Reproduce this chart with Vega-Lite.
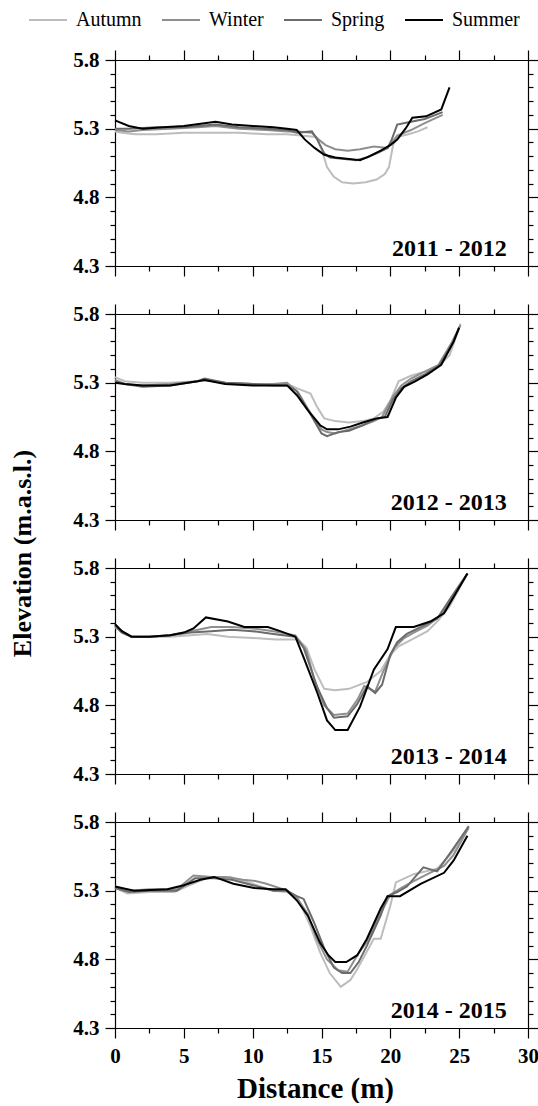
{
"$schema": "https://vega.github.io/schema/vega-lite/v6.json",
"padding": {"left": 9, "top": 0, "right": 0, "bottom": 0},
"bounds": "flush",
"spacing": 48,
"config": {
 "view": {"stroke": null},
 "axis": {"domainColor": "black", "tickColor": "black", "labelColor": "black", "titleColor": "black", "labelFont": "Liberation Serif", "titleFont": "Liberation Serif", "labelFontSize": 21, "labelFontWeight": "bold", "titleFontWeight": "bold", "grid": false, "domainWidth": 1.2, "tickWidth": 1.2, "labelOverlap": false, "labelFlush": false},
 "legend": {"orient": "none", "legendX": -87, "legendY": -60, "direction": "horizontal", "columns": 4, "symbolType": "stroke", "symbolSize": 1444, "symbolStrokeWidth": 2, "labelFont": "Liberation Serif", "labelFontSize": 20, "labelFontWeight": "normal", "labelColor": "black", "columnPadding": 16, "labelOffset": 8, "padding": 0}
},
"datasets": {"profiles": [
{"p":"2011 - 2012","s":"Autumn","d":0,"e":5.28},{"p":"2011 - 2012","s":"Autumn","d":0.5,"e":5.27},{"p":"2011 - 2012","s":"Autumn","d":1.5,"e":5.26},{"p":"2011 - 2012","s":"Autumn","d":3,"e":5.26},{"p":"2011 - 2012","s":"Autumn","d":5,"e":5.27},{"p":"2011 - 2012","s":"Autumn","d":7,"e":5.27},{"p":"2011 - 2012","s":"Autumn","d":9,"e":5.27},{"p":"2011 - 2012","s":"Autumn","d":11,"e":5.26},{"p":"2011 - 2012","s":"Autumn","d":12.5,"e":5.26},{"p":"2011 - 2012","s":"Autumn","d":13.5,"e":5.25},{"p":"2011 - 2012","s":"Autumn","d":14.6,"e":5.24},{"p":"2011 - 2012","s":"Autumn","d":15,"e":5.15},{"p":"2011 - 2012","s":"Autumn","d":15.4,"e":5.02},{"p":"2011 - 2012","s":"Autumn","d":15.9,"e":4.95},{"p":"2011 - 2012","s":"Autumn","d":16.5,"e":4.91},{"p":"2011 - 2012","s":"Autumn","d":17.3,"e":4.90},{"p":"2011 - 2012","s":"Autumn","d":18.2,"e":4.91},{"p":"2011 - 2012","s":"Autumn","d":19,"e":4.93},{"p":"2011 - 2012","s":"Autumn","d":19.6,"e":4.97},{"p":"2011 - 2012","s":"Autumn","d":19.9,"e":5.02},{"p":"2011 - 2012","s":"Autumn","d":20.2,"e":5.18},{"p":"2011 - 2012","s":"Autumn","d":20.5,"e":5.24},{"p":"2011 - 2012","s":"Autumn","d":21.3,"e":5.26},{"p":"2011 - 2012","s":"Autumn","d":22,"e":5.28},{"p":"2011 - 2012","s":"Autumn","d":22.7,"e":5.31},
{"p":"2011 - 2012","s":"Winter","d":0,"e":5.29},{"p":"2011 - 2012","s":"Winter","d":1,"e":5.28},{"p":"2011 - 2012","s":"Winter","d":2,"e":5.29},{"p":"2011 - 2012","s":"Winter","d":4,"e":5.30},{"p":"2011 - 2012","s":"Winter","d":6,"e":5.31},{"p":"2011 - 2012","s":"Winter","d":7.3,"e":5.32},{"p":"2011 - 2012","s":"Winter","d":9,"e":5.30},{"p":"2011 - 2012","s":"Winter","d":11,"e":5.29},{"p":"2011 - 2012","s":"Winter","d":12.5,"e":5.28},{"p":"2011 - 2012","s":"Winter","d":13.3,"e":5.28},{"p":"2011 - 2012","s":"Winter","d":14.3,"e":5.27},{"p":"2011 - 2012","s":"Winter","d":14.8,"e":5.22},{"p":"2011 - 2012","s":"Winter","d":15.3,"e":5.18},{"p":"2011 - 2012","s":"Winter","d":16,"e":5.15},{"p":"2011 - 2012","s":"Winter","d":16.9,"e":5.14},{"p":"2011 - 2012","s":"Winter","d":17.8,"e":5.15},{"p":"2011 - 2012","s":"Winter","d":18.8,"e":5.17},{"p":"2011 - 2012","s":"Winter","d":19.8,"e":5.16},{"p":"2011 - 2012","s":"Winter","d":20.5,"e":5.25},{"p":"2011 - 2012","s":"Winter","d":21.5,"e":5.29},{"p":"2011 - 2012","s":"Winter","d":22.5,"e":5.34},{"p":"2011 - 2012","s":"Winter","d":23.8,"e":5.40},
{"p":"2011 - 2012","s":"Spring","d":0,"e":5.30},{"p":"2011 - 2012","s":"Spring","d":1,"e":5.30},{"p":"2011 - 2012","s":"Spring","d":3,"e":5.31},{"p":"2011 - 2012","s":"Spring","d":5,"e":5.31},{"p":"2011 - 2012","s":"Spring","d":7.3,"e":5.33},{"p":"2011 - 2012","s":"Spring","d":9,"e":5.31},{"p":"2011 - 2012","s":"Spring","d":11,"e":5.30},{"p":"2011 - 2012","s":"Spring","d":12.5,"e":5.29},{"p":"2011 - 2012","s":"Spring","d":13.2,"e":5.27},{"p":"2011 - 2012","s":"Spring","d":14.3,"e":5.28},{"p":"2011 - 2012","s":"Spring","d":14.7,"e":5.22},{"p":"2011 - 2012","s":"Spring","d":15.2,"e":5.12},{"p":"2011 - 2012","s":"Spring","d":15.6,"e":5.09},{"p":"2011 - 2012","s":"Spring","d":16.5,"e":5.08},{"p":"2011 - 2012","s":"Spring","d":17.5,"e":5.07},{"p":"2011 - 2012","s":"Spring","d":18.3,"e":5.09},{"p":"2011 - 2012","s":"Spring","d":19.2,"e":5.13},{"p":"2011 - 2012","s":"Spring","d":19.8,"e":5.16},{"p":"2011 - 2012","s":"Spring","d":20.1,"e":5.22},{"p":"2011 - 2012","s":"Spring","d":20.5,"e":5.33},{"p":"2011 - 2012","s":"Spring","d":21.5,"e":5.35},{"p":"2011 - 2012","s":"Spring","d":22.5,"e":5.37},{"p":"2011 - 2012","s":"Spring","d":23.8,"e":5.42},
{"p":"2011 - 2012","s":"Summer","d":0,"e":5.36},{"p":"2011 - 2012","s":"Summer","d":1,"e":5.32},{"p":"2011 - 2012","s":"Summer","d":2,"e":5.30},{"p":"2011 - 2012","s":"Summer","d":3.5,"e":5.31},{"p":"2011 - 2012","s":"Summer","d":5,"e":5.32},{"p":"2011 - 2012","s":"Summer","d":6.5,"e":5.34},{"p":"2011 - 2012","s":"Summer","d":7.3,"e":5.35},{"p":"2011 - 2012","s":"Summer","d":8.5,"e":5.33},{"p":"2011 - 2012","s":"Summer","d":10,"e":5.32},{"p":"2011 - 2012","s":"Summer","d":11.5,"e":5.31},{"p":"2011 - 2012","s":"Summer","d":12.5,"e":5.30},{"p":"2011 - 2012","s":"Summer","d":13.2,"e":5.29},{"p":"2011 - 2012","s":"Summer","d":13.8,"e":5.22},{"p":"2011 - 2012","s":"Summer","d":14.5,"e":5.16},{"p":"2011 - 2012","s":"Summer","d":15.2,"e":5.11},{"p":"2011 - 2012","s":"Summer","d":16,"e":5.09},{"p":"2011 - 2012","s":"Summer","d":17,"e":5.08},{"p":"2011 - 2012","s":"Summer","d":17.8,"e":5.07},{"p":"2011 - 2012","s":"Summer","d":18.5,"e":5.10},{"p":"2011 - 2012","s":"Summer","d":19.3,"e":5.14},{"p":"2011 - 2012","s":"Summer","d":20,"e":5.18},{"p":"2011 - 2012","s":"Summer","d":20.5,"e":5.22},{"p":"2011 - 2012","s":"Summer","d":21.1,"e":5.30},{"p":"2011 - 2012","s":"Summer","d":21.6,"e":5.38},{"p":"2011 - 2012","s":"Summer","d":22.6,"e":5.39},{"p":"2011 - 2012","s":"Summer","d":23.7,"e":5.44},{"p":"2011 - 2012","s":"Summer","d":24.3,"e":5.60},
{"p":"2012 - 2013","s":"Autumn","d":0,"e":5.34},{"p":"2012 - 2013","s":"Autumn","d":0.7,"e":5.31},{"p":"2012 - 2013","s":"Autumn","d":2,"e":5.30},{"p":"2012 - 2013","s":"Autumn","d":4,"e":5.30},{"p":"2012 - 2013","s":"Autumn","d":6,"e":5.31},{"p":"2012 - 2013","s":"Autumn","d":6.5,"e":5.32},{"p":"2012 - 2013","s":"Autumn","d":8,"e":5.30},{"p":"2012 - 2013","s":"Autumn","d":10,"e":5.29},{"p":"2012 - 2013","s":"Autumn","d":11.5,"e":5.29},{"p":"2012 - 2013","s":"Autumn","d":12.5,"e":5.29},{"p":"2012 - 2013","s":"Autumn","d":13.2,"e":5.26},{"p":"2012 - 2013","s":"Autumn","d":14.2,"e":5.22},{"p":"2012 - 2013","s":"Autumn","d":14.7,"e":5.12},{"p":"2012 - 2013","s":"Autumn","d":15.2,"e":5.04},{"p":"2012 - 2013","s":"Autumn","d":16,"e":5.02},{"p":"2012 - 2013","s":"Autumn","d":17,"e":5.01},{"p":"2012 - 2013","s":"Autumn","d":18,"e":5.02},{"p":"2012 - 2013","s":"Autumn","d":18.8,"e":5.04},{"p":"2012 - 2013","s":"Autumn","d":19.5,"e":5.09},{"p":"2012 - 2013","s":"Autumn","d":20,"e":5.17},{"p":"2012 - 2013","s":"Autumn","d":20.6,"e":5.31},{"p":"2012 - 2013","s":"Autumn","d":21.5,"e":5.35},{"p":"2012 - 2013","s":"Autumn","d":22.5,"e":5.38},{"p":"2012 - 2013","s":"Autumn","d":23.5,"e":5.42},{"p":"2012 - 2013","s":"Autumn","d":24.3,"e":5.50},{"p":"2012 - 2013","s":"Autumn","d":25.1,"e":5.73},
{"p":"2012 - 2013","s":"Winter","d":0,"e":5.32},{"p":"2012 - 2013","s":"Winter","d":0.7,"e":5.29},{"p":"2012 - 2013","s":"Winter","d":2,"e":5.28},{"p":"2012 - 2013","s":"Winter","d":4,"e":5.29},{"p":"2012 - 2013","s":"Winter","d":6,"e":5.31},{"p":"2012 - 2013","s":"Winter","d":6.5,"e":5.32},{"p":"2012 - 2013","s":"Winter","d":8,"e":5.30},{"p":"2012 - 2013","s":"Winter","d":10,"e":5.29},{"p":"2012 - 2013","s":"Winter","d":11.5,"e":5.29},{"p":"2012 - 2013","s":"Winter","d":12.5,"e":5.30},{"p":"2012 - 2013","s":"Winter","d":13.3,"e":5.23},{"p":"2012 - 2013","s":"Winter","d":14.3,"e":5.06},{"p":"2012 - 2013","s":"Winter","d":15,"e":4.96},{"p":"2012 - 2013","s":"Winter","d":15.4,"e":4.94},{"p":"2012 - 2013","s":"Winter","d":16,"e":4.93},{"p":"2012 - 2013","s":"Winter","d":17,"e":4.96},{"p":"2012 - 2013","s":"Winter","d":18,"e":4.99},{"p":"2012 - 2013","s":"Winter","d":18.8,"e":5.02},{"p":"2012 - 2013","s":"Winter","d":19.4,"e":5.05},{"p":"2012 - 2013","s":"Winter","d":20.2,"e":5.20},{"p":"2012 - 2013","s":"Winter","d":20.8,"e":5.28},{"p":"2012 - 2013","s":"Winter","d":21.5,"e":5.33},{"p":"2012 - 2013","s":"Winter","d":22.5,"e":5.38},{"p":"2012 - 2013","s":"Winter","d":23.5,"e":5.43},{"p":"2012 - 2013","s":"Winter","d":24.5,"e":5.60},{"p":"2012 - 2013","s":"Winter","d":25.1,"e":5.72},
{"p":"2012 - 2013","s":"Spring","d":0,"e":5.31},{"p":"2012 - 2013","s":"Spring","d":0.7,"e":5.29},{"p":"2012 - 2013","s":"Spring","d":2,"e":5.27},{"p":"2012 - 2013","s":"Spring","d":4,"e":5.28},{"p":"2012 - 2013","s":"Spring","d":6,"e":5.31},{"p":"2012 - 2013","s":"Spring","d":6.5,"e":5.33},{"p":"2012 - 2013","s":"Spring","d":8,"e":5.30},{"p":"2012 - 2013","s":"Spring","d":10,"e":5.29},{"p":"2012 - 2013","s":"Spring","d":11.5,"e":5.28},{"p":"2012 - 2013","s":"Spring","d":12.5,"e":5.28},{"p":"2012 - 2013","s":"Spring","d":13.2,"e":5.24},{"p":"2012 - 2013","s":"Spring","d":14.2,"e":5.07},{"p":"2012 - 2013","s":"Spring","d":15,"e":4.93},{"p":"2012 - 2013","s":"Spring","d":15.4,"e":4.91},{"p":"2012 - 2013","s":"Spring","d":16.2,"e":4.94},{"p":"2012 - 2013","s":"Spring","d":17,"e":4.95},{"p":"2012 - 2013","s":"Spring","d":18,"e":4.99},{"p":"2012 - 2013","s":"Spring","d":18.8,"e":5.03},{"p":"2012 - 2013","s":"Spring","d":19.6,"e":5.05},{"p":"2012 - 2013","s":"Spring","d":20.2,"e":5.18},{"p":"2012 - 2013","s":"Spring","d":20.8,"e":5.26},{"p":"2012 - 2013","s":"Spring","d":21.5,"e":5.31},{"p":"2012 - 2013","s":"Spring","d":22.5,"e":5.36},{"p":"2012 - 2013","s":"Spring","d":23.5,"e":5.42},{"p":"2012 - 2013","s":"Spring","d":24.5,"e":5.58},{"p":"2012 - 2013","s":"Spring","d":25,"e":5.70},
{"p":"2012 - 2013","s":"Summer","d":0,"e":5.30},{"p":"2012 - 2013","s":"Summer","d":0.7,"e":5.29},{"p":"2012 - 2013","s":"Summer","d":2,"e":5.28},{"p":"2012 - 2013","s":"Summer","d":4,"e":5.28},{"p":"2012 - 2013","s":"Summer","d":6,"e":5.31},{"p":"2012 - 2013","s":"Summer","d":6.5,"e":5.32},{"p":"2012 - 2013","s":"Summer","d":8,"e":5.29},{"p":"2012 - 2013","s":"Summer","d":10,"e":5.28},{"p":"2012 - 2013","s":"Summer","d":11.5,"e":5.28},{"p":"2012 - 2013","s":"Summer","d":12.5,"e":5.28},{"p":"2012 - 2013","s":"Summer","d":13.2,"e":5.21},{"p":"2012 - 2013","s":"Summer","d":14,"e":5.10},{"p":"2012 - 2013","s":"Summer","d":14.9,"e":4.99},{"p":"2012 - 2013","s":"Summer","d":15.4,"e":4.96},{"p":"2012 - 2013","s":"Summer","d":16.2,"e":4.96},{"p":"2012 - 2013","s":"Summer","d":17.1,"e":4.98},{"p":"2012 - 2013","s":"Summer","d":18,"e":5.01},{"p":"2012 - 2013","s":"Summer","d":19,"e":5.04},{"p":"2012 - 2013","s":"Summer","d":19.8,"e":5.05},{"p":"2012 - 2013","s":"Summer","d":20.4,"e":5.19},{"p":"2012 - 2013","s":"Summer","d":21,"e":5.27},{"p":"2012 - 2013","s":"Summer","d":21.8,"e":5.31},{"p":"2012 - 2013","s":"Summer","d":22.7,"e":5.36},{"p":"2012 - 2013","s":"Summer","d":23.7,"e":5.43},{"p":"2012 - 2013","s":"Summer","d":24.6,"e":5.60},{"p":"2012 - 2013","s":"Summer","d":25,"e":5.70},
{"p":"2013 - 2014","s":"Autumn","d":0,"e":5.37},{"p":"2013 - 2014","s":"Autumn","d":0.5,"e":5.33},{"p":"2013 - 2014","s":"Autumn","d":1.2,"e":5.30},{"p":"2013 - 2014","s":"Autumn","d":2.5,"e":5.30},{"p":"2013 - 2014","s":"Autumn","d":4,"e":5.30},{"p":"2013 - 2014","s":"Autumn","d":5.5,"e":5.31},{"p":"2013 - 2014","s":"Autumn","d":6.7,"e":5.32},{"p":"2013 - 2014","s":"Autumn","d":8.2,"e":5.30},{"p":"2013 - 2014","s":"Autumn","d":10,"e":5.29},{"p":"2013 - 2014","s":"Autumn","d":11.7,"e":5.28},{"p":"2013 - 2014","s":"Autumn","d":13.3,"e":5.28},{"p":"2013 - 2014","s":"Autumn","d":13.9,"e":5.22},{"p":"2013 - 2014","s":"Autumn","d":14.5,"e":5.06},{"p":"2013 - 2014","s":"Autumn","d":15.2,"e":4.92},{"p":"2013 - 2014","s":"Autumn","d":16,"e":4.91},{"p":"2013 - 2014","s":"Autumn","d":17,"e":4.92},{"p":"2013 - 2014","s":"Autumn","d":18.3,"e":4.97},{"p":"2013 - 2014","s":"Autumn","d":19.3,"e":5.05},{"p":"2013 - 2014","s":"Autumn","d":20,"e":5.17},{"p":"2013 - 2014","s":"Autumn","d":20.6,"e":5.23},{"p":"2013 - 2014","s":"Autumn","d":21.2,"e":5.26},{"p":"2013 - 2014","s":"Autumn","d":22.7,"e":5.34},{"p":"2013 - 2014","s":"Autumn","d":23.5,"e":5.42},{"p":"2013 - 2014","s":"Autumn","d":24.3,"e":5.52},{"p":"2013 - 2014","s":"Autumn","d":25.6,"e":5.76},
{"p":"2013 - 2014","s":"Winter","d":0,"e":5.39},{"p":"2013 - 2014","s":"Winter","d":0.5,"e":5.34},{"p":"2013 - 2014","s":"Winter","d":1.2,"e":5.30},{"p":"2013 - 2014","s":"Winter","d":2.5,"e":5.30},{"p":"2013 - 2014","s":"Winter","d":4,"e":5.31},{"p":"2013 - 2014","s":"Winter","d":5.5,"e":5.34},{"p":"2013 - 2014","s":"Winter","d":7,"e":5.37},{"p":"2013 - 2014","s":"Winter","d":8.5,"e":5.37},{"p":"2013 - 2014","s":"Winter","d":10,"e":5.36},{"p":"2013 - 2014","s":"Winter","d":11.5,"e":5.34},{"p":"2013 - 2014","s":"Winter","d":13.1,"e":5.31},{"p":"2013 - 2014","s":"Winter","d":13.9,"e":5.20},{"p":"2013 - 2014","s":"Winter","d":14.5,"e":4.98},{"p":"2013 - 2014","s":"Winter","d":15.2,"e":4.80},{"p":"2013 - 2014","s":"Winter","d":15.9,"e":4.73},{"p":"2013 - 2014","s":"Winter","d":16.9,"e":4.74},{"p":"2013 - 2014","s":"Winter","d":17.6,"e":4.84},{"p":"2013 - 2014","s":"Winter","d":18.1,"e":4.94},{"p":"2013 - 2014","s":"Winter","d":18.9,"e":4.90},{"p":"2013 - 2014","s":"Winter","d":19.5,"e":5.05},{"p":"2013 - 2014","s":"Winter","d":20.3,"e":5.22},{"p":"2013 - 2014","s":"Winter","d":21,"e":5.29},{"p":"2013 - 2014","s":"Winter","d":21.7,"e":5.33},{"p":"2013 - 2014","s":"Winter","d":22.7,"e":5.38},{"p":"2013 - 2014","s":"Winter","d":23.6,"e":5.45},{"p":"2013 - 2014","s":"Winter","d":24.5,"e":5.58},{"p":"2013 - 2014","s":"Winter","d":25.6,"e":5.76},
{"p":"2013 - 2014","s":"Spring","d":0,"e":5.38},{"p":"2013 - 2014","s":"Spring","d":0.5,"e":5.33},{"p":"2013 - 2014","s":"Spring","d":1.2,"e":5.30},{"p":"2013 - 2014","s":"Spring","d":2.5,"e":5.30},{"p":"2013 - 2014","s":"Spring","d":4,"e":5.31},{"p":"2013 - 2014","s":"Spring","d":5.5,"e":5.33},{"p":"2013 - 2014","s":"Spring","d":7,"e":5.34},{"p":"2013 - 2014","s":"Spring","d":8.5,"e":5.35},{"p":"2013 - 2014","s":"Spring","d":10,"e":5.34},{"p":"2013 - 2014","s":"Spring","d":11.5,"e":5.32},{"p":"2013 - 2014","s":"Spring","d":13.1,"e":5.30},{"p":"2013 - 2014","s":"Spring","d":13.7,"e":5.22},{"p":"2013 - 2014","s":"Spring","d":14.7,"e":4.93},{"p":"2013 - 2014","s":"Spring","d":15.4,"e":4.78},{"p":"2013 - 2014","s":"Spring","d":15.9,"e":4.71},{"p":"2013 - 2014","s":"Spring","d":16.9,"e":4.72},{"p":"2013 - 2014","s":"Spring","d":17.6,"e":4.81},{"p":"2013 - 2014","s":"Spring","d":18.3,"e":4.94},{"p":"2013 - 2014","s":"Spring","d":18.9,"e":4.89},{"p":"2013 - 2014","s":"Spring","d":19.4,"e":4.95},{"p":"2013 - 2014","s":"Spring","d":20,"e":5.17},{"p":"2013 - 2014","s":"Spring","d":20.5,"e":5.26},{"p":"2013 - 2014","s":"Spring","d":21.2,"e":5.32},{"p":"2013 - 2014","s":"Spring","d":22.2,"e":5.37},{"p":"2013 - 2014","s":"Spring","d":23.4,"e":5.43},{"p":"2013 - 2014","s":"Spring","d":24.5,"e":5.60},{"p":"2013 - 2014","s":"Spring","d":25.6,"e":5.76},
{"p":"2013 - 2014","s":"Summer","d":0,"e":5.39},{"p":"2013 - 2014","s":"Summer","d":0.5,"e":5.34},{"p":"2013 - 2014","s":"Summer","d":1.2,"e":5.30},{"p":"2013 - 2014","s":"Summer","d":2.5,"e":5.30},{"p":"2013 - 2014","s":"Summer","d":4,"e":5.31},{"p":"2013 - 2014","s":"Summer","d":5,"e":5.33},{"p":"2013 - 2014","s":"Summer","d":5.7,"e":5.36},{"p":"2013 - 2014","s":"Summer","d":6.6,"e":5.44},{"p":"2013 - 2014","s":"Summer","d":8.2,"e":5.41},{"p":"2013 - 2014","s":"Summer","d":9.4,"e":5.37},{"p":"2013 - 2014","s":"Summer","d":10.2,"e":5.37},{"p":"2013 - 2014","s":"Summer","d":11.1,"e":5.37},{"p":"2013 - 2014","s":"Summer","d":12,"e":5.34},{"p":"2013 - 2014","s":"Summer","d":13.1,"e":5.30},{"p":"2013 - 2014","s":"Summer","d":13.7,"e":5.15},{"p":"2013 - 2014","s":"Summer","d":14.7,"e":4.89},{"p":"2013 - 2014","s":"Summer","d":15.4,"e":4.69},{"p":"2013 - 2014","s":"Summer","d":16,"e":4.62},{"p":"2013 - 2014","s":"Summer","d":16.9,"e":4.62},{"p":"2013 - 2014","s":"Summer","d":17.8,"e":4.79},{"p":"2013 - 2014","s":"Summer","d":18.8,"e":5.06},{"p":"2013 - 2014","s":"Summer","d":19.8,"e":5.21},{"p":"2013 - 2014","s":"Summer","d":20.4,"e":5.37},{"p":"2013 - 2014","s":"Summer","d":21.7,"e":5.37},{"p":"2013 - 2014","s":"Summer","d":22.9,"e":5.41},{"p":"2013 - 2014","s":"Summer","d":23.9,"e":5.47},{"p":"2013 - 2014","s":"Summer","d":25.6,"e":5.76},
{"p":"2014 - 2015","s":"Autumn","d":0,"e":5.32},{"p":"2014 - 2015","s":"Autumn","d":0.9,"e":5.28},{"p":"2014 - 2015","s":"Autumn","d":2.5,"e":5.29},{"p":"2014 - 2015","s":"Autumn","d":4.3,"e":5.29},{"p":"2014 - 2015","s":"Autumn","d":5.9,"e":5.36},{"p":"2014 - 2015","s":"Autumn","d":6.9,"e":5.40},{"p":"2014 - 2015","s":"Autumn","d":8.4,"e":5.40},{"p":"2014 - 2015","s":"Autumn","d":10,"e":5.35},{"p":"2014 - 2015","s":"Autumn","d":11.5,"e":5.30},{"p":"2014 - 2015","s":"Autumn","d":12.5,"e":5.29},{"p":"2014 - 2015","s":"Autumn","d":13.3,"e":5.24},{"p":"2014 - 2015","s":"Autumn","d":14.2,"e":5.04},{"p":"2014 - 2015","s":"Autumn","d":14.9,"e":4.85},{"p":"2014 - 2015","s":"Autumn","d":15.6,"e":4.70},{"p":"2014 - 2015","s":"Autumn","d":16.4,"e":4.60},{"p":"2014 - 2015","s":"Autumn","d":17.1,"e":4.65},{"p":"2014 - 2015","s":"Autumn","d":17.6,"e":4.73},{"p":"2014 - 2015","s":"Autumn","d":18.1,"e":4.82},{"p":"2014 - 2015","s":"Autumn","d":18.8,"e":4.95},{"p":"2014 - 2015","s":"Autumn","d":19.3,"e":4.95},{"p":"2014 - 2015","s":"Autumn","d":20,"e":5.19},{"p":"2014 - 2015","s":"Autumn","d":20.4,"e":5.36},{"p":"2014 - 2015","s":"Autumn","d":21.7,"e":5.42},{"p":"2014 - 2015","s":"Autumn","d":23.4,"e":5.46},{"p":"2014 - 2015","s":"Autumn","d":24.6,"e":5.59},{"p":"2014 - 2015","s":"Autumn","d":25.6,"e":5.75},
{"p":"2014 - 2015","s":"Winter","d":0,"e":5.33},{"p":"2014 - 2015","s":"Winter","d":1,"e":5.30},{"p":"2014 - 2015","s":"Winter","d":2.5,"e":5.31},{"p":"2014 - 2015","s":"Winter","d":4.5,"e":5.31},{"p":"2014 - 2015","s":"Winter","d":5.7,"e":5.41},{"p":"2014 - 2015","s":"Winter","d":7,"e":5.40},{"p":"2014 - 2015","s":"Winter","d":8,"e":5.40},{"p":"2014 - 2015","s":"Winter","d":9.3,"e":5.38},{"p":"2014 - 2015","s":"Winter","d":10.2,"e":5.37},{"p":"2014 - 2015","s":"Winter","d":11,"e":5.35},{"p":"2014 - 2015","s":"Winter","d":12.5,"e":5.30},{"p":"2014 - 2015","s":"Winter","d":13.2,"e":5.25},{"p":"2014 - 2015","s":"Winter","d":14,"e":5.13},{"p":"2014 - 2015","s":"Winter","d":14.6,"e":4.96},{"p":"2014 - 2015","s":"Winter","d":15.4,"e":4.80},{"p":"2014 - 2015","s":"Winter","d":16.2,"e":4.72},{"p":"2014 - 2015","s":"Winter","d":16.9,"e":4.71},{"p":"2014 - 2015","s":"Winter","d":17.6,"e":4.83},{"p":"2014 - 2015","s":"Winter","d":18.3,"e":4.93},{"p":"2014 - 2015","s":"Winter","d":19.1,"e":5.10},{"p":"2014 - 2015","s":"Winter","d":20,"e":5.27},{"p":"2014 - 2015","s":"Winter","d":20.8,"e":5.32},{"p":"2014 - 2015","s":"Winter","d":21.7,"e":5.37},{"p":"2014 - 2015","s":"Winter","d":22.7,"e":5.42},{"p":"2014 - 2015","s":"Winter","d":23.9,"e":5.48},{"p":"2014 - 2015","s":"Winter","d":24.6,"e":5.56},{"p":"2014 - 2015","s":"Winter","d":25.7,"e":5.76},
{"p":"2014 - 2015","s":"Spring","d":0,"e":5.32},{"p":"2014 - 2015","s":"Spring","d":1,"e":5.29},{"p":"2014 - 2015","s":"Spring","d":2.5,"e":5.30},{"p":"2014 - 2015","s":"Spring","d":4.5,"e":5.30},{"p":"2014 - 2015","s":"Spring","d":5.8,"e":5.39},{"p":"2014 - 2015","s":"Spring","d":7.2,"e":5.39},{"p":"2014 - 2015","s":"Spring","d":8.5,"e":5.38},{"p":"2014 - 2015","s":"Spring","d":10,"e":5.34},{"p":"2014 - 2015","s":"Spring","d":11.5,"e":5.30},{"p":"2014 - 2015","s":"Spring","d":12.5,"e":5.30},{"p":"2014 - 2015","s":"Spring","d":13.2,"e":5.26},{"p":"2014 - 2015","s":"Spring","d":13.7,"e":5.24},{"p":"2014 - 2015","s":"Spring","d":14.45,"e":5.07},{"p":"2014 - 2015","s":"Spring","d":15.2,"e":4.88},{"p":"2014 - 2015","s":"Spring","d":15.9,"e":4.74},{"p":"2014 - 2015","s":"Spring","d":16.5,"e":4.70},{"p":"2014 - 2015","s":"Spring","d":17.1,"e":4.70},{"p":"2014 - 2015","s":"Spring","d":17.7,"e":4.78},{"p":"2014 - 2015","s":"Spring","d":18.3,"e":4.90},{"p":"2014 - 2015","s":"Spring","d":19.3,"e":5.12},{"p":"2014 - 2015","s":"Spring","d":19.8,"e":5.26},{"p":"2014 - 2015","s":"Spring","d":20.5,"e":5.29},{"p":"2014 - 2015","s":"Spring","d":21.2,"e":5.33},{"p":"2014 - 2015","s":"Spring","d":22.4,"e":5.47},{"p":"2014 - 2015","s":"Spring","d":23.4,"e":5.44},{"p":"2014 - 2015","s":"Spring","d":24.6,"e":5.61},{"p":"2014 - 2015","s":"Spring","d":25.7,"e":5.77},
{"p":"2014 - 2015","s":"Summer","d":0,"e":5.33},{"p":"2014 - 2015","s":"Summer","d":1.4,"e":5.30},{"p":"2014 - 2015","s":"Summer","d":3.8,"e":5.31},{"p":"2014 - 2015","s":"Summer","d":5,"e":5.34},{"p":"2014 - 2015","s":"Summer","d":6.2,"e":5.38},{"p":"2014 - 2015","s":"Summer","d":7.2,"e":5.40},{"p":"2014 - 2015","s":"Summer","d":8.6,"e":5.35},{"p":"2014 - 2015","s":"Summer","d":10.1,"e":5.32},{"p":"2014 - 2015","s":"Summer","d":11.5,"e":5.31},{"p":"2014 - 2015","s":"Summer","d":12.4,"e":5.31},{"p":"2014 - 2015","s":"Summer","d":13.2,"e":5.23},{"p":"2014 - 2015","s":"Summer","d":14,"e":5.12},{"p":"2014 - 2015","s":"Summer","d":14.9,"e":4.92},{"p":"2014 - 2015","s":"Summer","d":15.5,"e":4.83},{"p":"2014 - 2015","s":"Summer","d":16,"e":4.78},{"p":"2014 - 2015","s":"Summer","d":16.8,"e":4.78},{"p":"2014 - 2015","s":"Summer","d":17.6,"e":4.83},{"p":"2014 - 2015","s":"Summer","d":18.3,"e":4.95},{"p":"2014 - 2015","s":"Summer","d":19.3,"e":5.17},{"p":"2014 - 2015","s":"Summer","d":19.8,"e":5.26},{"p":"2014 - 2015","s":"Summer","d":20.7,"e":5.26},{"p":"2014 - 2015","s":"Summer","d":22.2,"e":5.35},{"p":"2014 - 2015","s":"Summer","d":23.9,"e":5.43},{"p":"2014 - 2015","s":"Summer","d":24.6,"e":5.52},{"p":"2014 - 2015","s":"Summer","d":25.6,"e":5.70}
]},
"data": {"name": "profiles"},
"vconcat": [
{
 "width": 413, "height": 206,
 "layer": [
  {"transform": [{"filter": "datum.p == '2011 - 2012'"}],
   "mark": {"type": "line", "strokeWidth": 2},
   "encoding": {
    "x": {"field": "d", "type": "quantitative", "scale": {"domain": [0, 30], "nice": false}, "axis": {"orient": "bottom", "values": [0,2.5,5,7.5,10,12.5,15,17.5,20,22.5,25,27.5,30], "labels": false, "title": null, "tickSize": {"condition": {"test": "datum.value % 5 == 0", "value": 10}, "value": 5}}},
    "y": {"field": "e", "type": "quantitative", "scale": {"domain": [4.3, 5.8], "nice": false, "zero": false}, "axis": {"orient": "left", "values": [4.3,4.4,4.5,4.6,4.7,4.8,4.9,5,5.1,5.2,5.3,5.4,5.5,5.6,5.7,5.8], "title": null, "labelPadding": 6, "labelExpr": "abs((datum.value-4.3)*2 - round((datum.value-4.3)*2)) < 0.01 ? format(datum.value, '.1f') : ''", "tickSize": {"condition": {"test": "abs((datum.value-4.3)*2 - round((datum.value-4.3)*2)) < 0.01", "value": 10}, "value": 5}}},
    "color": {"field": "s", "type": "nominal", "scale": {"domain": ["Autumn", "Winter", "Spring", "Summer"], "range": ["#bdbdbd", "#8f8f8f", "#6b6b6b", "#000000"]}, "legend": {"title": null}}
   }},
  {"mark": {"type": "point", "opacity": 0},
   "encoding": {
    "x": {"field": "d", "type": "quantitative", "axis": {"orient": "top", "values": [0,2.5,5,7.5,10,12.5,15,17.5,20,22.5,25,27.5,30], "labels": false, "title": null, "tickSize": {"condition": {"test": "datum.value % 5 == 0", "value": 10}, "value": 5}}},
    "y": {"field": "e", "type": "quantitative", "axis": {"orient": "right", "values": [4.3,4.4,4.5,4.6,4.7,4.8,4.9,5,5.1,5.2,5.3,5.4,5.5,5.6,5.7,5.8], "labels": false, "title": null, "tickSize": {"condition": {"test": "abs((datum.value-4.3)*2 - round((datum.value-4.3)*2)) < 0.01", "value": 10}, "value": 5}}}
   }},
  {"data": {"values": [{"label": "2011 - 2012"}]},
   "mark": {"type": "text", "align": "right", "baseline": "alphabetic", "font": "Liberation Serif", "fontSize": 24, "fontWeight": "bold", "color": "black"},
   "encoding": {"x": {"datum": 28.45, "type": "quantitative", "axis": null}, "y": {"datum": 4.375, "type": "quantitative", "axis": null}, "text": {"field": "label"}}}
 ],
 "resolve": {"axis": {"x": "independent", "y": "independent"}}
},
{
 "width": 413, "height": 206,
 "layer": [
  {"transform": [{"filter": "datum.p == '2012 - 2013'"}],
   "mark": {"type": "line", "strokeWidth": 2},
   "encoding": {
    "x": {"field": "d", "type": "quantitative", "scale": {"domain": [0, 30], "nice": false}, "axis": {"orient": "bottom", "values": [0,2.5,5,7.5,10,12.5,15,17.5,20,22.5,25,27.5,30], "labels": false, "title": null, "tickSize": {"condition": {"test": "datum.value % 5 == 0", "value": 10}, "value": 5}}},
    "y": {"field": "e", "type": "quantitative", "scale": {"domain": [4.3, 5.8], "nice": false, "zero": false}, "axis": {"orient": "left", "values": [4.3,4.4,4.5,4.6,4.7,4.8,4.9,5,5.1,5.2,5.3,5.4,5.5,5.6,5.7,5.8], "title": "Elevation (m.a.s.l.)", "titleFontSize": 26, "titleX": -93, "titleY": 239, "titleAngle": -90, "titleAlign": "center", "titleBaseline": "middle", "labelPadding": 6, "labelExpr": "abs((datum.value-4.3)*2 - round((datum.value-4.3)*2)) < 0.01 ? format(datum.value, '.1f') : ''", "tickSize": {"condition": {"test": "abs((datum.value-4.3)*2 - round((datum.value-4.3)*2)) < 0.01", "value": 10}, "value": 5}}},
    "color": {"field": "s", "type": "nominal", "scale": {"domain": ["Autumn", "Winter", "Spring", "Summer"], "range": ["#bdbdbd", "#8f8f8f", "#6b6b6b", "#000000"]}, "legend": {"title": null}}
   }},
  {"mark": {"type": "point", "opacity": 0},
   "encoding": {
    "x": {"field": "d", "type": "quantitative", "axis": {"orient": "top", "values": [0,2.5,5,7.5,10,12.5,15,17.5,20,22.5,25,27.5,30], "labels": false, "title": null, "tickSize": {"condition": {"test": "datum.value % 5 == 0", "value": 10}, "value": 5}}},
    "y": {"field": "e", "type": "quantitative", "axis": {"orient": "right", "values": [4.3,4.4,4.5,4.6,4.7,4.8,4.9,5,5.1,5.2,5.3,5.4,5.5,5.6,5.7,5.8], "labels": false, "title": null, "tickSize": {"condition": {"test": "abs((datum.value-4.3)*2 - round((datum.value-4.3)*2)) < 0.01", "value": 10}, "value": 5}}}
   }},
  {"data": {"values": [{"label": "2012 - 2013"}]},
   "mark": {"type": "text", "align": "right", "baseline": "alphabetic", "font": "Liberation Serif", "fontSize": 24, "fontWeight": "bold", "color": "black"},
   "encoding": {"x": {"datum": 28.45, "type": "quantitative", "axis": null}, "y": {"datum": 4.375, "type": "quantitative", "axis": null}, "text": {"field": "label"}}}
 ],
 "resolve": {"axis": {"x": "independent", "y": "independent"}}
},
{
 "width": 413, "height": 206,
 "layer": [
  {"transform": [{"filter": "datum.p == '2013 - 2014'"}],
   "mark": {"type": "line", "strokeWidth": 2},
   "encoding": {
    "x": {"field": "d", "type": "quantitative", "scale": {"domain": [0, 30], "nice": false}, "axis": {"orient": "bottom", "values": [0,2.5,5,7.5,10,12.5,15,17.5,20,22.5,25,27.5,30], "labels": false, "title": null, "tickSize": {"condition": {"test": "datum.value % 5 == 0", "value": 10}, "value": 5}}},
    "y": {"field": "e", "type": "quantitative", "scale": {"domain": [4.3, 5.8], "nice": false, "zero": false}, "axis": {"orient": "left", "values": [4.3,4.4,4.5,4.6,4.7,4.8,4.9,5,5.1,5.2,5.3,5.4,5.5,5.6,5.7,5.8], "title": null, "labelPadding": 6, "labelExpr": "abs((datum.value-4.3)*2 - round((datum.value-4.3)*2)) < 0.01 ? format(datum.value, '.1f') : ''", "tickSize": {"condition": {"test": "abs((datum.value-4.3)*2 - round((datum.value-4.3)*2)) < 0.01", "value": 10}, "value": 5}}},
    "color": {"field": "s", "type": "nominal", "scale": {"domain": ["Autumn", "Winter", "Spring", "Summer"], "range": ["#bdbdbd", "#8f8f8f", "#6b6b6b", "#000000"]}, "legend": {"title": null}}
   }},
  {"mark": {"type": "point", "opacity": 0},
   "encoding": {
    "x": {"field": "d", "type": "quantitative", "axis": {"orient": "top", "values": [0,2.5,5,7.5,10,12.5,15,17.5,20,22.5,25,27.5,30], "labels": false, "title": null, "tickSize": {"condition": {"test": "datum.value % 5 == 0", "value": 10}, "value": 5}}},
    "y": {"field": "e", "type": "quantitative", "axis": {"orient": "right", "values": [4.3,4.4,4.5,4.6,4.7,4.8,4.9,5,5.1,5.2,5.3,5.4,5.5,5.6,5.7,5.8], "labels": false, "title": null, "tickSize": {"condition": {"test": "abs((datum.value-4.3)*2 - round((datum.value-4.3)*2)) < 0.01", "value": 10}, "value": 5}}}
   }},
  {"data": {"values": [{"label": "2013 - 2014"}]},
   "mark": {"type": "text", "align": "right", "baseline": "alphabetic", "font": "Liberation Serif", "fontSize": 24, "fontWeight": "bold", "color": "black"},
   "encoding": {"x": {"datum": 28.45, "type": "quantitative", "axis": null}, "y": {"datum": 4.375, "type": "quantitative", "axis": null}, "text": {"field": "label"}}}
 ],
 "resolve": {"axis": {"x": "independent", "y": "independent"}}
},
{
 "width": 413, "height": 206,
 "layer": [
  {"transform": [{"filter": "datum.p == '2014 - 2015'"}],
   "mark": {"type": "line", "strokeWidth": 2},
   "encoding": {
    "x": {"field": "d", "type": "quantitative", "scale": {"domain": [0, 30], "nice": false}, "axis": {"orient": "bottom", "values": [0,2.5,5,7.5,10,12.5,15,17.5,20,22.5,25,27.5,30], "labelExpr": "datum.value % 5 == 0 ? datum.label : ''", "labelPadding": 7, "title": "Distance (m)", "titleFontSize": 29, "titlePadding": 8, "titleX": 200, "titleAlign": "center", "tickSize": {"condition": {"test": "datum.value % 5 == 0", "value": 10}, "value": 5}}},
    "y": {"field": "e", "type": "quantitative", "scale": {"domain": [4.3, 5.8], "nice": false, "zero": false}, "axis": {"orient": "left", "values": [4.3,4.4,4.5,4.6,4.7,4.8,4.9,5,5.1,5.2,5.3,5.4,5.5,5.6,5.7,5.8], "title": null, "labelPadding": 6, "labelExpr": "abs((datum.value-4.3)*2 - round((datum.value-4.3)*2)) < 0.01 ? format(datum.value, '.1f') : ''", "tickSize": {"condition": {"test": "abs((datum.value-4.3)*2 - round((datum.value-4.3)*2)) < 0.01", "value": 10}, "value": 5}}},
    "color": {"field": "s", "type": "nominal", "scale": {"domain": ["Autumn", "Winter", "Spring", "Summer"], "range": ["#bdbdbd", "#8f8f8f", "#6b6b6b", "#000000"]}, "legend": {"title": null}}
   }},
  {"mark": {"type": "point", "opacity": 0},
   "encoding": {
    "x": {"field": "d", "type": "quantitative", "axis": {"orient": "top", "values": [0,2.5,5,7.5,10,12.5,15,17.5,20,22.5,25,27.5,30], "labels": false, "title": null, "tickSize": {"condition": {"test": "datum.value % 5 == 0", "value": 10}, "value": 5}}},
    "y": {"field": "e", "type": "quantitative", "axis": {"orient": "right", "values": [4.3,4.4,4.5,4.6,4.7,4.8,4.9,5,5.1,5.2,5.3,5.4,5.5,5.6,5.7,5.8], "labels": false, "title": null, "tickSize": {"condition": {"test": "abs((datum.value-4.3)*2 - round((datum.value-4.3)*2)) < 0.01", "value": 10}, "value": 5}}}
   }},
  {"data": {"values": [{"label": "2014 - 2015"}]},
   "mark": {"type": "text", "align": "right", "baseline": "alphabetic", "font": "Liberation Serif", "fontSize": 24, "fontWeight": "bold", "color": "black"},
   "encoding": {"x": {"datum": 28.45, "type": "quantitative", "axis": null}, "y": {"datum": 4.375, "type": "quantitative", "axis": null}, "text": {"field": "label"}}}
 ],
 "resolve": {"axis": {"x": "independent", "y": "independent"}}
}
]
}
